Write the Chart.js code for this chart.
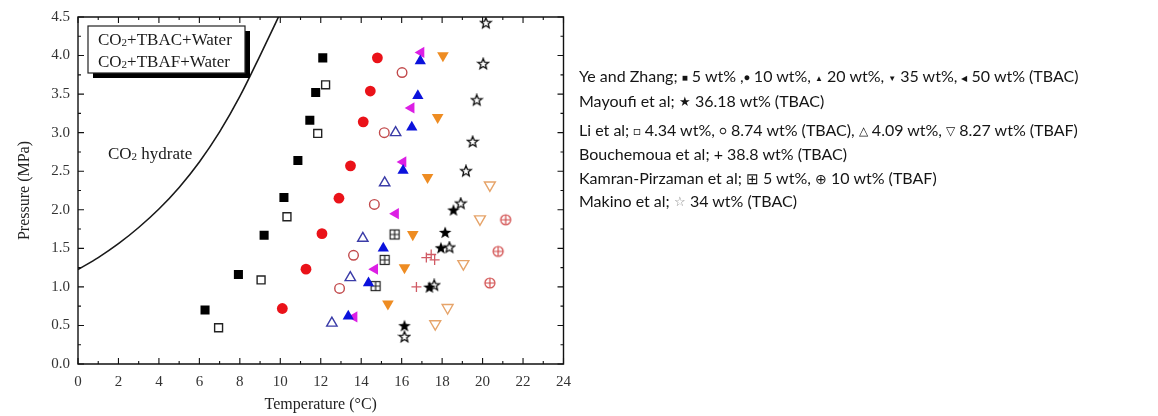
<!DOCTYPE html>
<html><head><meta charset="utf-8">
<script src="https://cdn.jsdelivr.net/npm/chart.js@4.4.1/dist/chart.umd.min.js"></script>
<style>
html,body{margin:0;padding:0;background:#fff;}
#wrap{position:relative;width:1158px;height:416px;overflow:hidden;}
#c{position:absolute;left:0;top:0;}
.lg{position:absolute;left:579px;font-family:Lato,"Open Sans",sans-serif;font-size:16px;color:#151515;white-space:nowrap;line-height:20px;}
.s{font-size:10px;position:relative;top:-1px;}
</style></head><body>
<div id="wrap">
<canvas id="c" width="580" height="416"></canvas>
<div class="lg" style="top:66px">Ye and Zhang; <span class="s">&#9632;</span>&nbsp;5 wt% ,<span class="s">&#9679;</span> 10 wt%, <span class="s" style="font-size:8px">&#9650;</span> 20 wt%, <span class="s" style="font-size:8px">&#9660;</span> 35 wt%, <span class="s" style="font-size:8px">&#9664;</span> 50 wt% (TBAC)</div>
<div class="lg" style="top:91px">Mayoufi et al; <span class="s" style="font-size:13px">&#9733;</span> 36.18 wt% (TBAC)</div>
<div class="lg" style="top:120px">Li et al; <span class="s" style="font-size:12px">&#9633;</span> 4.34 wt%, <span class="s" style="font-size:12px">&#9675;</span> 8.74 wt% (TBAC), <span class="s" style="font-size:12px">&#9651;</span> 4.09 wt%, <span class="s" style="font-size:12px">&#9661;</span> 8.27 wt% (TBAF)</div>
<div class="lg" style="top:144px">Bouchemoua et al; + 38.8 wt% (TBAC)</div>
<div class="lg" style="top:168px">Kamran-Pirzaman et al; <span style="font-size:15px">&#8862;</span> 5 wt%, <span style="font-size:14px">&#8853;</span> 10 wt% (TBAF)</div>
<div class="lg" style="top:191px">Makino et al; <span class="s" style="font-size:13px;color:#888">&#9734;</span> 34 wt% (TBAC)</div>
</div>
<script>
// ---- tick labels ----
const xTicks = [0,2,4,6,8,10,12,14,16,18,20,22,24];
const yTicks = ['0.0','0.5','1.0','1.5','2.0','2.5','3.0','3.5','4.0','4.5'];

// ---- series (Temperature °C, Pressure MPa) ----
const ye5T  = [6.28,7.93,9.20,10.18,10.87,11.46,11.75,12.10];
const ye5P  = [0.70,1.16,1.67,2.16,2.64,3.16,3.52,3.97];
const ye10T = [10.10,11.27,12.06,12.90,13.47,14.10,14.45,14.80];
const ye10P = [0.72,1.23,1.69,2.15,2.57,3.14,3.54,3.97];
const ye20T = [13.36,14.36,15.09,16.07,16.50,16.80,16.92];
const ye20P = [0.62,1.05,1.50,2.51,3.07,3.48,3.93];
const ye35T = [15.32,16.14,16.55,17.28,17.78,18.04];
const ye35P = [0.78,1.25,1.68,2.42,3.20,4.00];
const ye50T = [13.65,14.67,15.70,16.07,16.47,16.96];
const ye50P = [0.61,1.23,1.95,2.62,3.32,4.04];
const mayT  = [16.14,17.37,17.94,18.15,18.56];
const mayP  = [0.49,0.99,1.50,1.70,1.99];
const li434T = [6.95,9.05,10.33,11.85,12.24];
const li434P = [0.47,1.09,1.91,2.99,3.62];
const li874T = [12.93,13.62,14.65,15.14,16.02];
const li874P = [0.98,1.41,2.07,3.00,3.78];
const li409T = [12.55,13.46,14.08,15.16,15.70];
const li409P = [0.53,1.12,1.63,2.35,3.00];
const li827T = [17.66,18.27,19.05,19.87,20.36];
const li827P = [0.52,0.73,1.30,1.88,2.32];
const bouT  = [16.73,17.22,17.46,17.63];
const bouP  = [1.00,1.38,1.42,1.35];
const kam5T = [14.71,15.16,15.65];
const kam5P = [1.01,1.35,1.68];
const kam10T = [20.36,20.77,21.14];
const kam10P = [1.05,1.46,1.87];
const makT  = [16.14,17.61,18.36,18.92,19.18,19.51,19.71,20.03,20.16];
const makP  = [0.35,1.02,1.51,2.08,2.50,2.88,3.42,3.89,4.42];
const curveT = [0,1,2,3,4,5,6,7,8,9,10];
const curveP = [1.225,1.38,1.56,1.77,2.01,2.29,2.62,3.01,3.47,4.00,4.55];

const pts = (T,P) => T.map((t,i)=>({x:t,y:P[i]}));

// ---- custom marker glyphs ----
function mk(size, draw){const c=document.createElement('canvas');c.width=size;c.height=size;const g=c.getContext('2d');draw(g,size/2);return c;}
function starPath(g,c,R,r){g.beginPath();for(let i=0;i<10;i++){const a=-Math.PI/2+i*Math.PI/5;const rr=i%2?r:R;g.lineTo(c+rr*Math.cos(a),c+rr*Math.sin(a));}g.closePath();}
const starFilled = mk(16,(g,c)=>{starPath(g,c,6.6,2.7);g.fillStyle='#000';g.fill();});
const starOpen = mk(14,(g,c)=>{starPath(g,c,5.6,2.4);g.fillStyle='#fff';g.fill();g.lineWidth=1.3;g.strokeStyle='#111';g.stroke();});
const boxPlus = mk(14,(g,c)=>{g.strokeStyle='#222';g.lineWidth=1.2;g.fillStyle='#fff';g.fillRect(c-4.5,c-4.5,9,9);g.strokeRect(c-4.5,c-4.5,9,9);g.beginPath();g.moveTo(c,c-4.5);g.lineTo(c,c+4.5);g.moveTo(c-4.5,c);g.lineTo(c+4.5,c);g.stroke();});
const circPlus = mk(14,(g,c)=>{g.strokeStyle='#d04848';g.lineWidth=1.2;g.beginPath();g.arc(c,c,5,0,Math.PI*2);g.stroke();g.beginPath();g.moveTo(c,c-5);g.lineTo(c,c+5);g.moveTo(c-5,c);g.lineTo(c+5,c);g.stroke();});

function ds(label,T,P,o){return Object.assign({label,data:pts(T,P),showLine:false,borderWidth:1.3},o);}

const datasets = [
  Object.assign({label:'CO2 hydrate',data:pts(curveT,curveP),showLine:true,pointRadius:0,borderColor:'#1a1a1a',borderWidth:1.6,cubicInterpolationMode:'monotone',fill:false}),
  ds('Ye 5 wt%',ye5T,ye5P,{pointStyle:'rect',pointRadius:6.4,backgroundColor:'#000',borderColor:'#000',borderWidth:0}),
  ds('Li 4.34 wt%',li434T,li434P,{pointStyle:'rect',pointRadius:5.6,backgroundColor:'#fff',borderColor:'#222',borderWidth:1.4}),
  ds('Ye 10 wt%',ye10T,ye10P,{pointStyle:'circle',pointRadius:5.4,backgroundColor:'#ea1219',borderColor:'#ea1219',borderWidth:0}),
  ds('Li 8.74 wt%',li874T,li874P,{pointStyle:'circle',pointRadius:4.8,backgroundColor:'#fff',borderColor:'#c24a4c',borderWidth:1.4}),
  ds('Li 4.09 wt%',li409T,li409P,{pointStyle:'triangle',pointRadius:6,backgroundColor:'#fff',borderColor:'#3b3ca8',borderWidth:1.4}),
  ds('Li 8.27 wt%',li827T,li827P,{pointStyle:'triangle',rotation:180,pointRadius:6.3,backgroundColor:'#fff',borderColor:'#e6a46a',borderWidth:1.4}),
  ds('Ye 20 wt%',ye20T,ye20P,{pointStyle:'triangle',pointRadius:6.5,backgroundColor:'#0b12dc',borderColor:'#0b12dc',borderWidth:0}),
  ds('Ye 50 wt%',ye50T,ye50P,{pointStyle:'triangle',rotation:-90,pointRadius:6.5,backgroundColor:'#dc1fe4',borderColor:'#dc1fe4',borderWidth:0}),
  ds('Ye 35 wt%',ye35T,ye35P,{pointStyle:'triangle',rotation:180,pointRadius:6.7,backgroundColor:'#ee8c22',borderColor:'#ee8c22',borderWidth:0}),
  ds('Bouchemoua 38.8 wt%',bouT,bouP,{pointStyle:'cross',pointRadius:5,backgroundColor:'#d05a64',borderColor:'#d05a64',borderWidth:1.3}),
  ds('Kamran 5 wt%',kam5T,kam5P,{pointStyle:boxPlus}),
  ds('Kamran 10 wt%',kam10T,kam10P,{pointStyle:circPlus}),
  ds('Mayoufi 36.18 wt%',mayT,mayP,{pointStyle:starFilled}),
  ds('Makino 34 wt%',makT,makP,{pointStyle:starOpen})
];

const SERIF = '"Liberation Serif","Times New Roman",serif';

const framePlugin = {
  id:'frame',
  afterDraw(chart){
    const ctx = chart.ctx, a = chart.chartArea, x = chart.scales.x, y = chart.scales.y;
    ctx.save();
    ctx.globalAlpha = 1;
    ctx.globalCompositeOperation = 'source-over';
    ctx.setLineDash([]);
    ctx.lineCap = 'butt';
    ctx.strokeStyle = '#111';
    ctx.lineWidth = 1.4;
    ctx.beginPath();
    ctx.moveTo(a.left, a.top); ctx.lineTo(a.right, a.top); ctx.lineTo(a.right, a.bottom);
    ctx.lineTo(a.left, a.bottom); ctx.closePath();
    ctx.stroke();
    ctx.lineWidth = 1.1;
    ctx.beginPath();
    for (let i = 0; i <= 24; i++) {
      const px = x.getPixelForValue(i); const L = (i % 2 === 0) ? 6 : 3;
      ctx.moveTo(px, a.bottom); ctx.lineTo(px, a.bottom - L);
      ctx.moveTo(px, a.top); ctx.lineTo(px, a.top + L);
    }
    for (let j = 0; j <= 18; j++) {
      const py = y.getPixelForValue(j * 0.25); const L = (j % 2 === 0) ? 6 : 3;
      ctx.moveTo(a.left, py); ctx.lineTo(a.left + L, py);
      ctx.moveTo(a.right, py); ctx.lineTo(a.right - L, py);
    }
    ctx.stroke();

    // annotation box with shadow
    const bx = a.left + 10, by = a.top + 9, bw = 157, bh = 47;
    ctx.fillStyle = '#000'; ctx.fillRect(bx + 5, by + 5, bw, bh);
    ctx.fillStyle = '#fff'; ctx.fillRect(bx, by, bw, bh);
    ctx.strokeStyle = '#222'; ctx.lineWidth = 1.2; ctx.strokeRect(bx, by, bw, bh);
    const co2 = (txt, x0, yc, fs) => {
      ctx.fillStyle = '#1a1a1a'; ctx.textBaseline = 'alphabetic'; ctx.textAlign = 'left';
      ctx.font = fs + 'px ' + SERIF; let xx = x0; const base = yc + fs * 0.33;
      ctx.fillText('CO', xx, base); xx += ctx.measureText('CO').width;
      ctx.font = Math.round(fs * 0.62) + 'px ' + SERIF; ctx.fillText('2', xx, base + 1); xx += ctx.measureText('2').width;
      ctx.font = fs + 'px ' + SERIF; ctx.fillText(txt, xx, base);
    };
    co2('+TBAC+Water', bx + 10, by + 13, 17);
    co2('+TBAF+Water', bx + 10, by + 35, 17);
    co2(' hydrate', x.getPixelForValue(1.48), y.getPixelForValue(2.73), 17);
    ctx.restore();
  }
};

new Chart(document.getElementById('c'), {
  type: 'scatter',
  data: {datasets},
  options: {
    responsive: false, animation: false, devicePixelRatio: 1,
    layout: {padding: {top: 16, right: 12, left: 0, bottom: 0}},
    plugins: {legend: {display: false}, tooltip: {enabled: false}},
    elements: {point: {hoverRadius: 0}},
    scales: {
      x: {type: 'linear', min: 0, max: 24,
        afterFit: s => { s.height = 52; },
        afterBuildTicks: s => { s.ticks = xTicks.map(v => ({value: v})); },
        grid: {display: false, drawTicks: false}, border: {display: false},
        ticks: {padding: 9, color: '#333', font: {family: SERIF, size: 15}, callback: (v) => String(v)},
        title: {display: true, text: 'Temperature (°C)', color: '#222', font: {family: SERIF, size: 16}, padding: {top: 0, bottom: 2}}
      },
      y: {type: 'linear', min: 0, max: 4.5,
        afterFit: s => { s.width = 78; },
        afterBuildTicks: s => { s.ticks = yTicks.map(t => ({value: parseFloat(t)})); },
        grid: {display: false, drawTicks: false}, border: {display: false},
        ticks: {padding: 8, color: '#333', font: {family: SERIF, size: 15}, callback: (v, i) => yTicks[i]},
        title: {display: true, text: 'Pressure (MPa)', color: '#222', font: {family: SERIF, size: 16}, padding: {top: 15, bottom: 0}}
      }
    }
  },
  plugins: [framePlugin]
});
</script>
</body></html>
